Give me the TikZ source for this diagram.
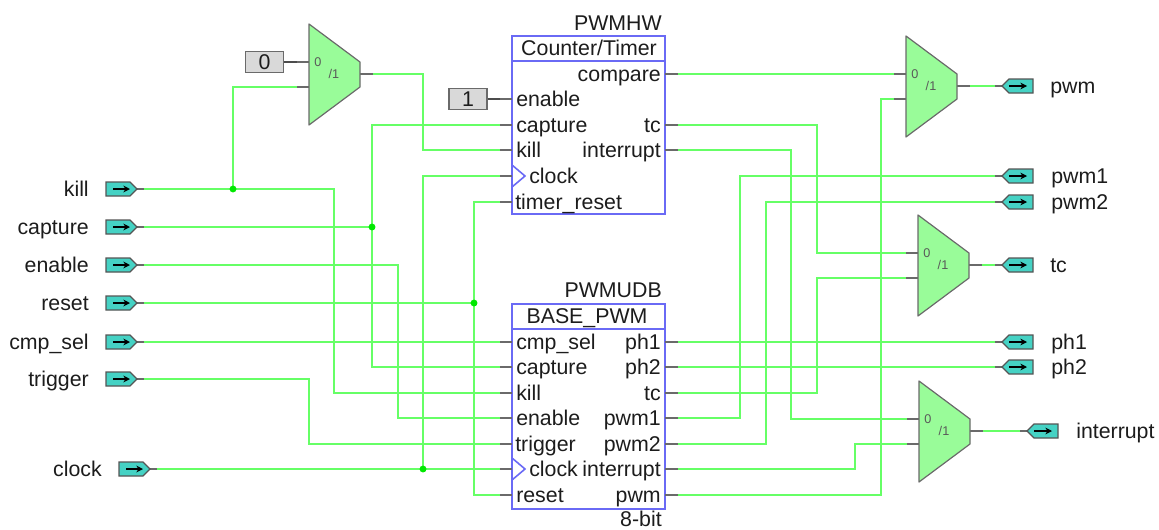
\documentclass[tikz,border=0pt]{standalone}
\usepackage{fontspec}
\setmainfont{Liberation Sans}
\definecolor{wirecol}{HTML}{66FF66}
\definecolor{stubcol}{HTML}{6A6A6A}
\definecolor{muxcol}{HTML}{99FC99}
\definecolor{pincol}{HTML}{45D2C4}
\definecolor{blockcol}{HTML}{6A6AF5}
\definecolor{dotcol}{HTML}{00E800}
\definecolor{textcol}{HTML}{1C1C1C}
\tikzset{
  wire/.style={wirecol, line width=1.1pt},
  stub/.style={stubcol, line width=1.1pt},
  joint/.style={fill=dotcol, draw=none},
  muxshape/.style={fill=muxcol, draw=stubcol, line width=0.9pt, line join=round},
  pinshape/.style={fill=pincol, draw=stubcol!80!black, line width=0.9pt},
  pinarrow/.style={-{Stealth[length=5pt,width=5pt]}, black, line width=1.1pt},
  blockbox/.style={draw=blockcol, line width=1.2pt},
  constbox/.style={fill=black!15, draw=stubcol, line width=0.9pt, minimum width=28.5pt, minimum height=15.5pt, inner sep=0pt, text=textcol, font=\fontsize{16}{18}\selectfont},
  lbl/.style={inner sep=0pt, text=textcol, font=\fontsize{16}{18}\selectfont},
  tiny lbl/.style={inner sep=0pt, text=black!65, font=\fontsize{9.5}{11}\selectfont}
}
\usetikzlibrary{arrows.meta}
\begin{document}
\begin{tikzpicture}[x=0.75pt, y=-0.75pt]
    \useasboundingbox (0,0) rectangle (1159,529);

    % input pins
    \foreach \nm/\txt/\xx/\lx/\yy in {kill/kill/106/89/189, capture/capture/106/89/227, enable/enable/106/89/265,
        reset/reset/106/89/303, cmpsel/cmp\_sel/106/89/342, trigger/trigger/106/89/379, clock/clock/119/102/469} {
        \coordinate (\nm) at ({\xx+38},\yy);
        \draw[stub] ({\xx+31},\yy) -- (\nm);
        \filldraw[pinshape] (\xx,\yy-7) -- ({\xx+24},\yy-7) -- ({\xx+31},\yy) -- ({\xx+24},\yy+7) -- (\xx,\yy+7) -- cycle;
        \draw[pinarrow] ({\xx+7},\yy) -- ({\xx+24},\yy);
        \node[lbl, anchor=base east] (lab\nm) at (\lx,\yy+7) {\txt};
    }

    % output pins
    \foreach \nm/\txt/\xx/\lx/\yy in {opwm/pwm/1002/1050/86, opwma/pwm1/1002/1051/176, opwmb/pwm2/1002/1051/202,
        otc/tc/1002/1050/265, ophone/ph1/1002/1051/342, ophtwo/ph2/1002/1051/367, oint/interrupt/1027/1076/431} {
        \coordinate (\nm) at ({\xx-7},\yy);
        \draw[stub] (\xx,\yy) -- (\nm);
        \filldraw[pinshape] (\xx,\yy) -- ({\xx+7},\yy-7) -- ({\xx+31},\yy-7) -- ({\xx+31},\yy+7) -- ({\xx+7},\yy+7) -- cycle;
        \draw[pinarrow] ({\xx+7},\yy) -- ({\xx+25},\yy);
        \node[lbl, anchor=base west] (lab\nm) at (\lx,\yy+7) {\txt};
    }

    % multiplexers
    \foreach \nm/\xx/\yy in {muxa/309/24, muxb/906/36, muxc/918/215, muxd/919/381} {
        \coordinate (\nm i) at ({\xx-12},\yy+38);
        \coordinate (\nm j) at ({\xx-12},\yy+63);
        \coordinate (\nm o) at ({\xx+64},\yy+50);
        \draw[stub] (\nm i) -- (\xx,\yy+38);
        \draw[stub] (\nm j) -- (\xx,\yy+63);
        \draw[stub] ({\xx+51},\yy+50) -- (\nm o);
        \filldraw[muxshape] (\xx,\yy) -- ({\xx+51},\yy+38) -- ({\xx+51},\yy+63) -- (\xx,\yy+101) -- cycle;
        \node[tiny lbl] (\nm zero) at ({\xx+9},\yy+38) {0};
        \node[tiny lbl] (\nm one) at ({\xx+25},\yy+50) {/1};
    }

    % blocks
    \draw[blockbox] (512,36) rectangle (665,214);
    \draw[blockbox] (512,61) -- (665,61);
    \draw[blockbox] (512,304) rectangle (665,509);
    \draw[blockbox] (512,329) -- (665,329);
    \draw[blockbox] (512,165) -- (525,176) -- (512,187);
    \draw[blockbox] (512,458) -- (525,469) -- (512,480);
    \node[lbl, anchor=base east] (hwname) at (662,30) {PWMHW};
    \node[lbl, anchor=base] (hwtype) at (589,55) {Counter/Timer};
    \node[lbl, anchor=base east] (udbname) at (662,297) {PWMUDB};
    \node[lbl, anchor=base] (udbtype) at (587,323) {BASE\_PWM};
    \node[lbl, anchor=base east] (udbbits) at (662,526) {8-bit};

    % left pins of the blocks
    \foreach \nm/\txt/\lx/\yy in {hwenable/enable/516/99, hwcapture/capture/516/125, hwkill/kill/516/150,
        hwclock/clock/529/176, hwreset/timer\_reset/515/202, udbcmp/cmp\_sel/516/342, udbcapture/capture/516/367,
        udbkill/kill/516/393, udbenable/enable/516/418, udbtrigger/trigger/515/444, udbclock/clock/529/469, udbreset/reset/516/495} {
        \coordinate (\nm) at (500,\yy);
        \draw[stub] (\nm) -- (512,\yy);
        \node[lbl, anchor=base west] (lab\nm) at (\lx,\yy+7) {\txt};
    }

    % right pins of the blocks
    \foreach \nm/\txt/\yy in {hwcompare/compare/74, hwtc/tc/125, hwint/interrupt/150, udbphone/ph1/342, udbphtwo/ph2/367,
        udbtc/tc/393, udbpwma/pwm1/418, udbpwmb/pwm2/444, udbint/interrupt/469, udbpwm/pwm/495} {
        \coordinate (\nm) at (678,\yy);
        \draw[stub] (665,\yy) -- (\nm);
        \node[lbl, anchor=base east] (lab\nm) at (661,\yy+7) {\txt};
    }

    % constants
    \node[constbox] (zero) at (264.5,62) {0};
    \node[constbox] (one) at (468,99) {1};
    \draw[stub, black!70] (zero) -- (muxai);
    \draw[stub, black!70] (one) -- (hwenable);

    % wires on the left
    \draw[wire] (kill) -| (233,150) |- (muxaj);
    \draw[wire] (kill) -| (334,300) |- (udbkill);
    \draw[wire] (muxao) -| (423,100) |- (hwkill);
    \draw[wire] (capture) -| (372,200) |- (hwcapture);
    \draw[wire] (capture) -| (372,300) |- (udbcapture);
    \draw[wire] (enable) -| (398,350) |- (udbenable);
    \draw[wire] (reset) -| (474,250) |- (hwreset);
    \draw[wire] (reset) -| (474,400) |- (udbreset);
    \draw[wire] (cmpsel) -- (udbcmp);
    \draw[wire] (trigger) -| (309,400) |- (udbtrigger);
    \draw[wire] (clock) -- (udbclock);
    \draw[wire] (clock) -| (423,300) |- (hwclock);

    % wires on the right
    \draw[wire] (hwcompare) -- (muxbi);
    \draw[wire] (hwtc) -| (817,200) |- (muxci);
    \draw[wire] (hwint) -| (791,300) |- (muxdi);
    \draw[wire] (udbphone) -- (ophone);
    \draw[wire] (udbphtwo) -- (ophtwo);
    \draw[wire] (udbtc) -| (817,330) |- (muxcj);
    \draw[wire] (udbpwma) -| (740,300) |- (opwma);
    \draw[wire] (udbpwmb) -| (766,300) |- (opwmb);
    \draw[wire] (udbint) -| (855,455) |- (muxdj);
    \draw[wire] (udbpwm) -| (881,300) |- (muxbj);
    \draw[wire] (muxbo) -- (opwm);
    \draw[wire] (muxco) -- (otc);
    \draw[wire] (muxdo) -- (oint);

    % junctions
    \fill[joint] (233,189) circle (2.6pt);
    \fill[joint] (372,227) circle (2.6pt);
    \fill[joint] (474,303) circle (2.6pt);
    \fill[joint] (423,469) circle (2.6pt);
\end{tikzpicture}
\end{document}
